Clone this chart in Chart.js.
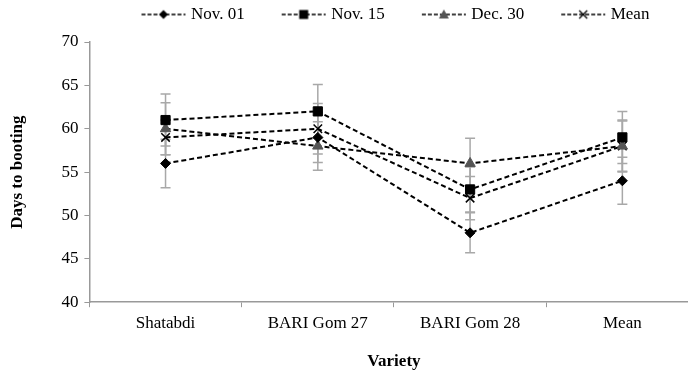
<!DOCTYPE html>
<html>
<head>
<meta charset="utf-8">
<script src="https://cdn.jsdelivr.net/npm/chart.js@4/dist/chart.umd.min.js"></script>
<style>
html,body{margin:0;padding:0;background:#fff;overflow:hidden;}
#wrap{width:706px;height:371px;}
</style>
</head>
<body>
<div id="wrap"><canvas id="c" width="706" height="371"></canvas></div>
<script>
const categories = ["Shatabdi", "BARI Gom 27", "BARI Gom 28", "Mean"];
const seriesNames = ["Nov. 01", "Nov. 15", "Dec. 30", "Mean"];
const nov01 = [56, 59, 48, 54];
const nov15 = [61, 62, 53, 59];
const dec30 = [60, 58, 56, 58];
const meanS = [59, 60, 52, 58];
const nov01Err = [2.8, 2.9, 2.3, 2.7];
const nov15Err = [3.0, 3.1, 2.6, 3.0];
const dec30Err = [3.0, 2.8, 2.9, 3.0];
const meanErr = [2.0, 2.9, 2.5, 2.9];
const yTicks = [40, 45, 50, 55, 60, 65, 70];

const FONT = "'Liberation Serif', 'Times New Roman', serif";
const styles = [
  {pointStyle:'rectRot', radius:5, color:'#000', bw:1},
  {pointStyle:'rect', radius:6.5, color:'#000', bw:1},
  {pointStyle:'triangle', radius:6, color:'#555', bw:1},
  {pointStyle:'crossRot', radius:6, color:'#000', bw:1.5}
];

function legendIcon(st){
  const c = document.createElement('canvas');
  c.width = 46; c.height = 14;
  const g = c.getContext('2d');
  g.strokeStyle = '#000'; g.lineWidth = 1.5; g.setLineDash([4,2]);
  g.beginPath(); g.moveTo(1,7); g.lineTo(45,7); g.stroke();
  g.setLineDash([]);
  g.fillStyle = st.color; g.strokeStyle = st.color;
  const x=23,y=7;
  g.beginPath();
  if(st.pointStyle==='rectRot'){g.moveTo(x,y-4.5);g.lineTo(x+4.5,y);g.lineTo(x,y+4.5);g.lineTo(x-4.5,y);g.closePath();g.fill();}
  else if(st.pointStyle==='rect'){g.fillRect(x-4.5,y-4.5,9,9);}
  else if(st.pointStyle==='triangle'){g.moveTo(x,y-5);g.lineTo(x+5,y+4);g.lineTo(x-5,y+4);g.closePath();g.fill();}
  else {g.lineWidth=1.3;g.moveTo(x-4,y-4);g.lineTo(x+4,y+4);g.moveTo(x+4,y-4);g.lineTo(x-4,y+4);g.stroke();}
  return c;
}

const values = [nov01, nov15, dec30, meanS];
const errs = [nov01Err, nov15Err, dec30Err, meanErr];
const datasets = values.map((v,i)=>({
  label: seriesNames[i],
  data: v,
  errors: errs[i],
  borderColor:'#000',
  borderWidth:2,
  borderDash:[5,3],
  pointStyle: styles[i].pointStyle,
  pointRadius: styles[i].radius,
  pointBackgroundColor: styles[i].color,
  pointBorderColor: styles[i].color,
  pointBorderWidth: styles[i].bw,
  fill:false,
  tension:0
}));
const icons = styles.map(legendIcon);

const errorBars = {
  id:'errorBars',
  beforeDatasetsDraw(chart){
    const ctx = chart.ctx, y = chart.scales.y;
    ctx.save();
    ctx.strokeStyle = '#a8a8a8';
    ctx.lineWidth = 1.5;
    chart.data.datasets.forEach((ds,di)=>{
      const meta = chart.getDatasetMeta(di);
      meta.data.forEach((pt,j)=>{
        const v = ds.data[j], e = ds.errors[j];
        const x = pt.x, y1 = y.getPixelForValue(v+e), y2 = y.getPixelForValue(v-e);
        ctx.beginPath();
        ctx.moveTo(x,y1); ctx.lineTo(x,y2);
        ctx.moveTo(x-5,y1); ctx.lineTo(x+5,y1);
        ctx.moveTo(x-5,y2); ctx.lineTo(x+5,y2);
        ctx.stroke();
      });
    });
    ctx.restore();
  }
};

// Keep legend compact vertically and centred over the plot area
const legendTweak = {
  id:'legendTweak',
  afterInit(chart){
    const lg = chart.legend;
    if(!lg) return;
    const orig = lg.fit;
    lg.fit = function(){ orig.call(this); this.height += 9; };
  },
  afterLayout(chart){
    const lg = chart.legend, ca = chart.chartArea;
    if(!lg) return;
    const dx = (ca.left + ca.right)/2 + 3 - (lg.left + lg.right)/2;
    lg.left += dx; lg.right += dx;
  }
};

new Chart(document.getElementById('c'), {
  type:'line',
  data:{labels:categories, datasets},
  plugins:[errorBars, legendTweak],
  options:{
    responsive:false,
    animation:false,
    layout:{padding:{left:3, right:3, top:-34, bottom:-5}},
    plugins:{
      legend:{
        position:'top',
        labels:{
          usePointStyle:true,
          pointStyleWidth:38,
          boxHeight:14,
          padding:40,
          color:'#000',
          font:{family:FONT, size:17},
          generateLabels(chart){
            return chart.data.datasets.map((ds,i)=>({
              text: ds.label, pointStyle: icons[i], fillStyle:'#000', strokeStyle:'#000',
              lineWidth:0, datasetIndex:i, hidden:false
            }));
          }
        }
      },
      tooltip:{enabled:false}
    },
    scales:{
      x:{
        offset:true,
        grid:{display:true, offset:true, drawOnChartArea:false, drawTicks:true, tickLength:5, color:'#999'},
        border:{display:true, color:'#999', width:1.5},
        ticks:{color:'#000', font:{family:FONT, size:17}, padding:6, maxRotation:0},
        title:{display:true, text:'Variety', color:'#000', font:{family:FONT, size:17, weight:'bold'}, padding:{top:12}}
      },
      y:{
        min:40, max:70,
        afterBuildTicks(axis){ axis.ticks = yTicks.map(v=>({value:v})); },
        grid:{display:true, drawOnChartArea:false, drawTicks:true, tickLength:5, color:'#999'},
        border:{display:true, color:'#999', width:1.5},
        ticks:{color:'#000', font:{family:FONT, size:17}, padding:6},
        title:{display:true, text:'Days to booting', color:'#000', font:{family:FONT, size:17, weight:'bold'}, padding:{bottom:28}}
      }
    }
  }
});
</script>
</body>
</html>
